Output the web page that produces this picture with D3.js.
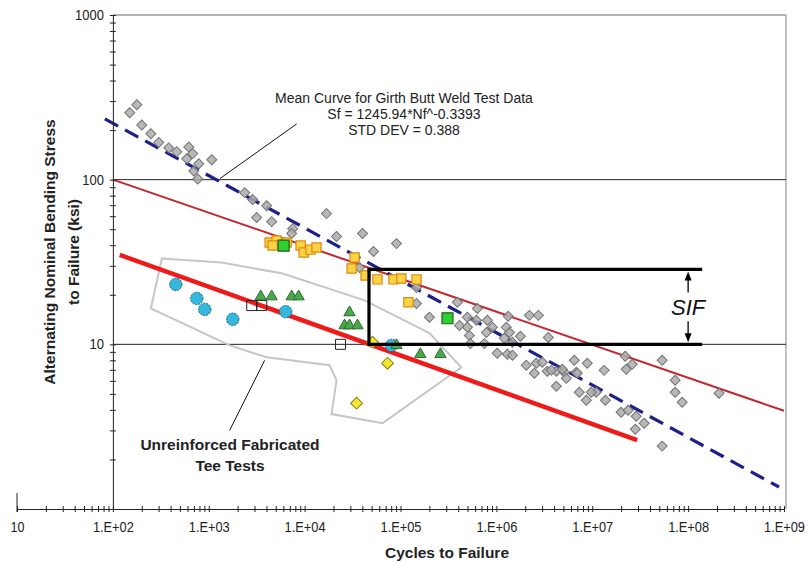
<!DOCTYPE html>
<html>
<head>
<meta charset="utf-8">
<script src="https://cdn.jsdelivr.net/npm/d3@7"></script>
<style>
  body { margin: 0; background: #fff; }
  svg text { font-family: "Liberation Sans", Arial, sans-serif; }
</style>
</head>
<body>
<div id="chart"></div>
<script>
"use strict";

// Tick values and labels
var xTickValues = [1e1, 1e2, 1e3, 1e4, 1e5, 1e6, 1e7, 1e8, 1e9];
var xTickLabels = ["10", "1.E+02", "1.E+03", "1.E+04", "1.E+05", "1.E+06", "1.E+07", "1.E+08", "1.E+09"];
var yTickValues = [10, 100, 1000];
var yTickLabels = ["10", "100", "1000"];

// Girth butt weld test data [cycles, ksi]
var girthData = [
  [150,255],[178,285],[200,215],[249,190],[301,168],[383,156],[464,148],[619,158],[681,144],[590,134],
  [787,125],[1075,132],[698,113],[768,101],[2370,83.4],[2870,75.7],[4020,69.5],[4530,55.6],[3160,58.9],
  [7500,50.4],[7320,47.1],[16900,62.2],[21500,45.2],[40200,47.1],[52300,36.6],[90800,40.9],[37400,29.3],
  [146800,22.1],[146800,17.7],[200400,14.6],[392000,18.0],[499000,14.6],[634000,16.5],[805000,14.0],
  [412000,13.0],[499000,12.7],[619000,14.0],[787000,11.8],[523000,11.3],[909000,12.7],[1.27e6,12.7],
  [1.33e6,14.8],[2.21e6,15.0],[2.74e6,15.0],[1.21e6,10.9],[1.47e6,10.3],[1.78e6,11.2],[3.48e6,11.0],
  [1.37e6,11.8],[536000,10.1],[750000,10.1],[1.02e6,8.82],[1.30e6,8.70],[1.47e6,8.58],[2.05e6,7.46],
  [2.61e6,7.67],[3.01e6,7.78],[3.40e6,6.86],[2.49e6,6.67],[4.22e6,6.86],[5.11e6,6.76],[6.49e6,8.0],
  [8.87e6,7.67],[6.81e6,6.76],[1.33e7,6.95],[2.21e7,8.46],[2.61e7,7.56],[2.26e7,7.05],[5.36e7,8.0],
  [7.32e7,6.05],[7.32e7,5.12],[8.66e7,4.45],[2.10e8,5.05],[4.22e6,5.56],[5.36e6,6.22],[6.98e6,6.67],
  [7.32e6,5.12],[8.66e6,4.58],[1.10e7,5.12],[9.77e6,5.12],[1.37e7,4.58],[2.0e7,3.87],[2.37e7,3.98],
  [2.87e7,3.66],[3.48e7,3.32],[2.81e7,3.05],[5.36e7,2.41],[3.74e6,6.95],[4.87e6,7.05]
];
var orangeSquares = [
  [4320,41.5],[5100,42.7],[4640,39.8],[6490,41.5],[9080,39.8],[9770,36.1],[11500,37.6],[13300,38.7],
  [33200,33.7],[30900,28.9],[43200,26.2],[57500,24.8],[84500,24.8],[102000,25.1],[147000,24.8],[121000,18.0]
];
var greenSquares = [[6040,39.8],[309000,14.4]];
var cyanCircles = [[453,23.1],[750,19.0],[908,16.3],[1780,14.2],[6340,15.8],[80500,9.86]];
var whiteSquares = [[2810,17.2],[3570,17.2],[23700,10.0]];
var greenTriangles = [
  [3480,19.5],[4530,19.5],[7330,19.5],[8660,19.5],[29400,15.6],[26100,13.0],[29400,13.0],[35600,13.0],
  [161000,8.70],[261000,8.70],[90800,9.86]
];
var yellowDiamonds = [[34800,4.39],[73200,7.67],[51100,10.3]];

// Tee test region outline
var teeRegion = [
  [324,33.2],[1365,31.4],[5900,26.9],[42200,18.5],[200000,11.7],[431000,7.25],[65000,3.32],
  [19100,3.77],[21500,6.05],[18200,7.46],[4020,8.34],[1655,9.86],[249,16.5]
];

// Lines
var meanCurve = [[82.5,234],[8.87e8,1.36]];
var upperLine = [[1e2,100],[1e9,3.95]];
var teeLine = [[118,34.9],[2.94e7,2.62]];

// SIF bracket
var sifTop = 28.5, sifBottom = 10, sifLeft = 46900, sifRight = 1.40e8, sifArrow = 1.0e8;

var W = 809, H = 563;
var svg = d3.select("#chart").append("svg").attr("width", W).attr("height", H);

var x = d3.scaleLog().domain([10, 1e9]).range([17, 784]);
var y = d3.scaleLog().domain([1, 1000]).range([509, 15]);
var x0 = x(100), xR = 786;

// frame and grid
svg.append("line").attr("x1", x0).attr("x2", xR).attr("y1", y(1000)).attr("y2", y(1000))
   .attr("stroke", "#999").attr("stroke-width", 1.5);
svg.append("line").attr("x1", xR).attr("x2", xR).attr("y1", y(1000)).attr("y2", y(1))
   .attr("stroke", "#aaa").attr("stroke-width", 1.5);
svg.selectAll(".grid").data([10, 100]).enter().append("line")
   .attr("x1", x0).attr("x2", xR).attr("y1", function(d){ return y(d); }).attr("y2", function(d){ return y(d); })
   .attr("stroke", "#222").attr("stroke-width", 1);

// region outline
var line = d3.line().x(function(d){ return x(d[0]); }).y(function(d){ return y(d[1]); });
svg.append("path").attr("d", line(teeRegion) + "Z")
   .attr("fill", "none").attr("stroke", "#c6c6c6").attr("stroke-width", 2);

// lines
svg.append("path").attr("d", line(upperLine)).attr("stroke", "#c4262d").attr("stroke-width", 2).attr("fill", "none");
svg.append("path").attr("d", line(teeLine)).attr("stroke", "#ee1b1b").attr("stroke-width", 4.5).attr("fill", "none");
svg.append("path").attr("d", line(meanCurve)).attr("stroke", "#1c1f8c").attr("stroke-width", 3.2)
   .attr("stroke-dasharray", "15,8").attr("fill", "none");

// axes
var xMinor = x.ticks().filter(function(d){ return d >= 10 && d <= 1e9; });
var yMinor = y.ticks().filter(function(d){ return d >= 1 && d <= 1000; });

var gx = svg.append("g").attr("transform", "translate(0," + y(1) + ")");
gx.call(d3.axisBottom(x).tickValues(xMinor).tickSize(3).tickSizeOuter(0).tickFormat(""));
gx.append("g").call(d3.axisTop(x).tickValues(xMinor).tickSize(3).tickSizeOuter(0).tickFormat(""))
  .select(".domain").remove();
gx.append("line").attr("x1", x(10)).attr("x2", x(10)).attr("y1", -16).attr("y2", 3).attr("stroke", "#222");
var gxl = gx.append("g").call(d3.axisBottom(x).tickValues(xTickValues).tickSize(0).tickPadding(13)
  .tickFormat(function(d, i){ return xTickLabels[i]; }));
gxl.select(".domain").remove();
gxl.selectAll("text").attr("font-size", 14).attr("fill", "#222")
   .attr("textLength", function(d, i){ return i === 0 ? 14 : 41; }).attr("lengthAdjust", "spacingAndGlyphs");
gx.selectAll("path, line").attr("stroke", "#222");

var gy = svg.append("g").attr("transform", "translate(" + x0 + ",0)");
gy.call(d3.axisLeft(y).tickValues(yMinor).tickSize(3).tickSizeOuter(0).tickFormat(""));
gy.append("g").call(d3.axisRight(y).tickValues(yMinor).tickSize(3).tickSizeOuter(0).tickFormat(""))
  .select(".domain").remove();
var gyl = gy.append("g").call(d3.axisLeft(y).tickValues(yTickValues).tickSize(0).tickPadding(9)
  .tickFormat(function(d, i){ return yTickLabels[i]; }));
gyl.select(".domain").remove();
gyl.selectAll("text").attr("font-size", 14).attr("fill", "#222")
   .attr("textLength", function(d, i){ return yTickLabels[i].length * 7.2; }).attr("lengthAdjust", "spacingAndGlyphs");
gy.selectAll("path, line").attr("stroke", "#222");

// points
function tr(d) { return "translate(" + x(d[0]) + "," + y(d[1]) + ")"; }
var diamond = d3.symbol().type(d3.symbolSquare).size(50);
svg.selectAll(".girth").data(girthData).enter().append("path")
   .attr("d", diamond).attr("transform", function(d){ return tr(d) + " rotate(45)"; })
   .attr("fill", "#ababab").attr("fill-opacity", 0.85).attr("stroke", "#737373").attr("stroke-width", 1);

svg.selectAll(".osq").data(orangeSquares).enter().append("path")
   .attr("d", d3.symbol().type(d3.symbolSquare).size(85)).attr("transform", tr)
   .attr("fill", "#fbd445").attr("stroke", "#e0870f").attr("stroke-width", 1.2);
svg.selectAll(".gsq").data(greenSquares).enter().append("path")
   .attr("d", d3.symbol().type(d3.symbolSquare).size(120)).attr("transform", tr)
   .attr("fill", "#2fd02f").attr("stroke", "#1d5e1d").attr("stroke-width", 1.2);
svg.selectAll(".wsq").data(whiteSquares).enter().append("path")
   .attr("d", d3.symbol().type(d3.symbolSquare).size(100)).attr("transform", tr)
   .attr("fill", "none").attr("stroke", "#222").attr("stroke-width", 1);
svg.selectAll(".cyc").data(cyanCircles).enter().append("path")
   .attr("d", d3.symbol().type(d3.symbolCircle).size(120)).attr("transform", tr)
   .attr("fill", "#33b8dc").attr("stroke", "#1f5a8a").attr("stroke-width", 1).attr("stroke-dasharray", "2,1");
svg.selectAll(".gtri").data(greenTriangles).enter().append("path")
   .attr("d", d3.symbol().type(d3.symbolTriangle).size(55)).attr("transform", tr)
   .attr("fill", "#4aa84c").attr("stroke", "#2c6e2f").attr("stroke-width", 1);
svg.selectAll(".ydia").data(yellowDiamonds).enter().append("path")
   .attr("d", d3.symbol().type(d3.symbolSquare).size(70))
   .attr("transform", function(d){ return tr(d) + " rotate(45)"; })
   .attr("fill", "#f4e82a").attr("stroke", "#857d1c").attr("stroke-width", 1);

// SIF bracket
var sif = svg.append("g").attr("stroke", "#000").attr("stroke-width", 3.2);
sif.append("line").attr("x1", x(sifLeft) - 1.5).attr("x2", x(sifRight)).attr("y1", y(sifTop)).attr("y2", y(sifTop));
sif.append("line").attr("x1", x(sifLeft) - 1.5).attr("x2", x(sifRight)).attr("y1", y(sifBottom)).attr("y2", y(sifBottom));
sif.append("line").attr("x1", x(sifLeft)).attr("x2", x(sifLeft)).attr("y1", y(sifTop)).attr("y2", y(sifBottom));
var ax = x(sifArrow), aTop = y(sifTop) + 2, aBot = y(sifBottom) - 2;
svg.append("line").attr("x1", ax).attr("x2", ax).attr("y1", aTop + 6).attr("y2", aTop + 21).attr("stroke", "#000").attr("stroke-width", 1.3);
svg.append("line").attr("x1", ax).attr("x2", ax).attr("y1", aBot - 21).attr("y2", aBot - 6).attr("stroke", "#000").attr("stroke-width", 1.3);
svg.append("path").attr("d", "M" + ax + "," + aTop + "l-3.5,9h7z").attr("fill", "#000");
svg.append("path").attr("d", "M" + ax + "," + aBot + "l-3.5,-9h7z").attr("fill", "#000");
svg.append("text").attr("x", ax).attr("y", (aTop + aBot) / 2 + 8).attr("text-anchor", "middle")
   .attr("font-size", 22).attr("font-style", "italic").attr("fill", "#111").text("SIF");

// annotations
var meanLeader = [[1304,101.4],[8260,218]];
var teeLeader = [[3830,8.0],[1655,3.01]];
svg.append("path").attr("d", line(meanLeader)).attr("stroke", "#111").attr("stroke-width", 1).attr("fill", "none");
svg.append("path").attr("d", line(teeLeader)).attr("stroke", "#111").attr("stroke-width", 1).attr("fill", "none");

var meanText = ["Mean Curve for Girth Butt Weld Test Data", "Sf = 1245.94*Nf^-0.3393", "STD DEV = 0.388"];
svg.selectAll(".mt").data(meanText).enter().append("text")
   .attr("x", 404).attr("y", function(d, i){ return 103 + i * 16; }).attr("text-anchor", "middle")
   .attr("font-size", 14).attr("fill", "#222").text(function(d){ return d; });

var teeText = ["Unreinforced Fabricated", "Tee Tests"];
svg.selectAll(".tt").data(teeText).enter().append("text")
   .attr("x", 230).attr("y", function(d, i){ return 450 + i * 21; }).attr("text-anchor", "middle")
   .attr("font-size", 15.5).attr("font-weight", "bold").attr("fill", "#222").text(function(d){ return d; });

// axis titles
svg.append("text").attr("x", 447).attr("y", 558).attr("text-anchor", "middle")
   .attr("font-size", 15.5).attr("font-weight", "bold").attr("fill", "#222").text("Cycles to Failure");
var yTitle = ["Alternating Nominal Bending Stress", "to Failure (ksi)"];
svg.selectAll(".yt").data(yTitle).enter().append("text")
   .attr("transform", function(d, i){ return "translate(" + (55 + i * 24) + ",252) rotate(-90)"; })
   .attr("text-anchor", "middle").attr("font-size", 15.5).attr("font-weight", "bold").attr("fill", "#222")
   .text(function(d){ return d; });
</script>
</body>
</html>
